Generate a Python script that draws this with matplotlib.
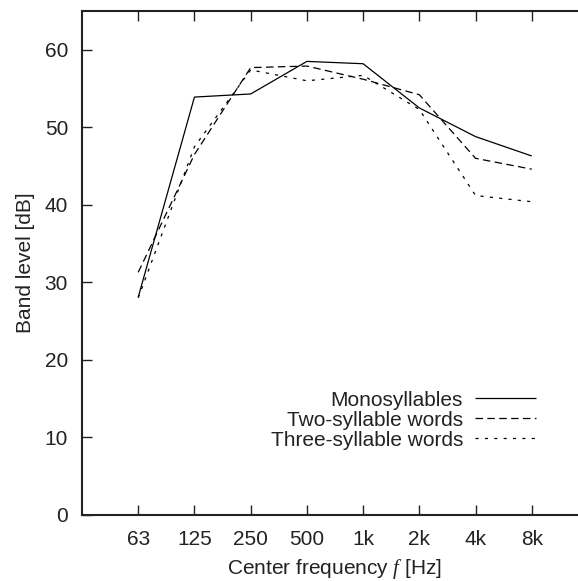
import numpy as np
import matplotlib
matplotlib.use("Agg")
import matplotlib.pyplot as plt

plt.rcParams['font.family'] = ['Liberation Sans', 'DejaVu Sans']
plt.rcParams['mathtext.fontset'] = 'custom'
plt.rcParams['mathtext.it'] = 'Liberation Serif:italic'

# Octave band centre frequencies
bands = ['63', '125', '250', '500', '1k', '2k', '4k', '8k']
band_pos = np.arange(1, len(bands) + 1)

# Band levels [dB]
mono = [28.1, 53.9, 54.3, 58.5, 58.2, 52.5, 48.8, 46.3]
two_syl = [31.3, 46.5, 57.7, 57.9, 56.2, 54.2, 46.0, 44.6]
three_syl = [28.0, 47.5, 57.4, 56.0, 56.7, 52.3, 41.2, 40.4]

series = [
    ('Monosyllables', mono, (0, ())),
    ('Two-syllable words', two_syl, (0, (6, 3.5))),
    ('Three-syllable words', three_syl, (0, (2.5, 5))),
]

fig = plt.figure(figsize=(5.78, 5.81), dpi=100)
# right spine sits just outside the picture, as in the reference
ax = fig.add_axes([82 / 578, 1 - 515 / 581, (588 - 82) / 578, (515 - 11) / 581])

for label, vals, ls in series:
    ax.plot(band_pos, vals, color='black', lw=0.9, linestyle=ls, label=label)

ax.set_xlim(0, 9)
ax.set_ylim(0, 65)
ax.set_xticks(band_pos)
ax.set_xticklabels(bands)
ax.set_yticks(np.arange(0, 61, 10))
ax.tick_params(direction='in', length=7, width=1, top=True, right=True,
               labelsize=15, colors='#222222', labelcolor='#222222')
ax.tick_params(axis='x', pad=10.5)
ax.tick_params(axis='y', pad=10)
for s in ax.spines.values():
    s.set_linewidth(1.5)
    s.set_color('#222222')

ax.set_xlabel('Center frequency $f$ [Hz]', fontsize=15, color='#222222', labelpad=6)
ax.set_ylabel('Band level [dB]', fontsize=15, color='#222222', labelpad=7)

ax.legend(loc='center right', bbox_to_anchor=(0.897, 0.188), frameon=False,
          markerfirst=False, fontsize=15, handlelength=2.9, handletextpad=0.6,
          labelspacing=0.05, borderpad=0, borderaxespad=0, labelcolor='#222222')

fig.savefig('out.png', dpi=100)
